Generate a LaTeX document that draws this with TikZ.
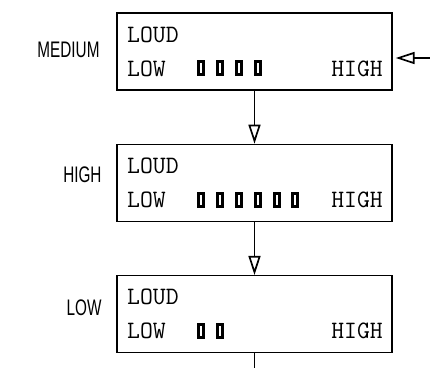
\documentclass[tikz,border=0pt]{standalone}
\usepackage{fontspec}
\usepackage{graphicx}
\newfontfamily\modefont{Liberation Sans}
\usetikzlibrary{arrows.meta,positioning,calc}

\begin{document}
\begin{tikzpicture}[x=1pt,y=-1pt,
  >={Triangle[open,length=19pt,width=12pt]}, line width=1.7pt,
  panel/.style={draw,line width=1.3pt,minimum width=275pt,minimum height=77pt,inner sep=0pt},
  lcd/.style={font=\fontsize{25}{28}\selectfont\ttfamily,inner sep=0pt},
  mode/.style={font=\fontsize{22.5}{26}\selectfont\modefont,inner sep=0pt,anchor=base east},
  seg/.style={draw,line width=3pt,minimum width=5pt,minimum height=13pt,inner sep=0pt}]
\useasboundingbox (0,0) rectangle (430,368);
\node[panel] (med) at (254.5,51.5) {};
\node[panel,below=53pt of med] (high) {};
\node[panel,below=53pt of high] (low) {};
% display contents
\foreach \n/\k in {med/4,high/6,low/2}{
  \node[lcd,anchor=base west] (\n-loud) at ($(\n.north west)+(10,30)$) {LOUD};
  \node[lcd,anchor=base west] (\n-low) at ($(\n.north west)+(10,64)$) {LOW};
  \node[lcd,anchor=base east] (\n-high) at ($(\n.north east)+(-9,64)$) {HIGH};
  \foreach \i in {1,...,\k}
    \node[seg] (\n-seg\i) at ($(\n.north west)+(85,56)+(18.8*\i-18.8,0)$) {};
}
\node[mode] (med-mode) at ($(med.west)+(-16,6)$) {\scalebox{0.68}[1]{MEDIUM}};
\node[mode] (high-mode) at ($(high.west)+(-14,0)$) {\scalebox{0.68}[1]{HIGH}};
\node[mode] (low-mode) at ($(low.west)+(-14,1)$) {\scalebox{0.68}[1]{LOW}};
% key presses
\coordinate (feed) at (430,58);
\coordinate (edge) at (0,368);
\coordinate (out) at (low.south |- edge);
\draw[->,shorten >=3pt] (feed) -- (feed -| med.east);
\draw[->] (med) -- (high);
\draw[->] (high) -- (low);
\draw (low) -- (out);
\end{tikzpicture}
\end{document}
